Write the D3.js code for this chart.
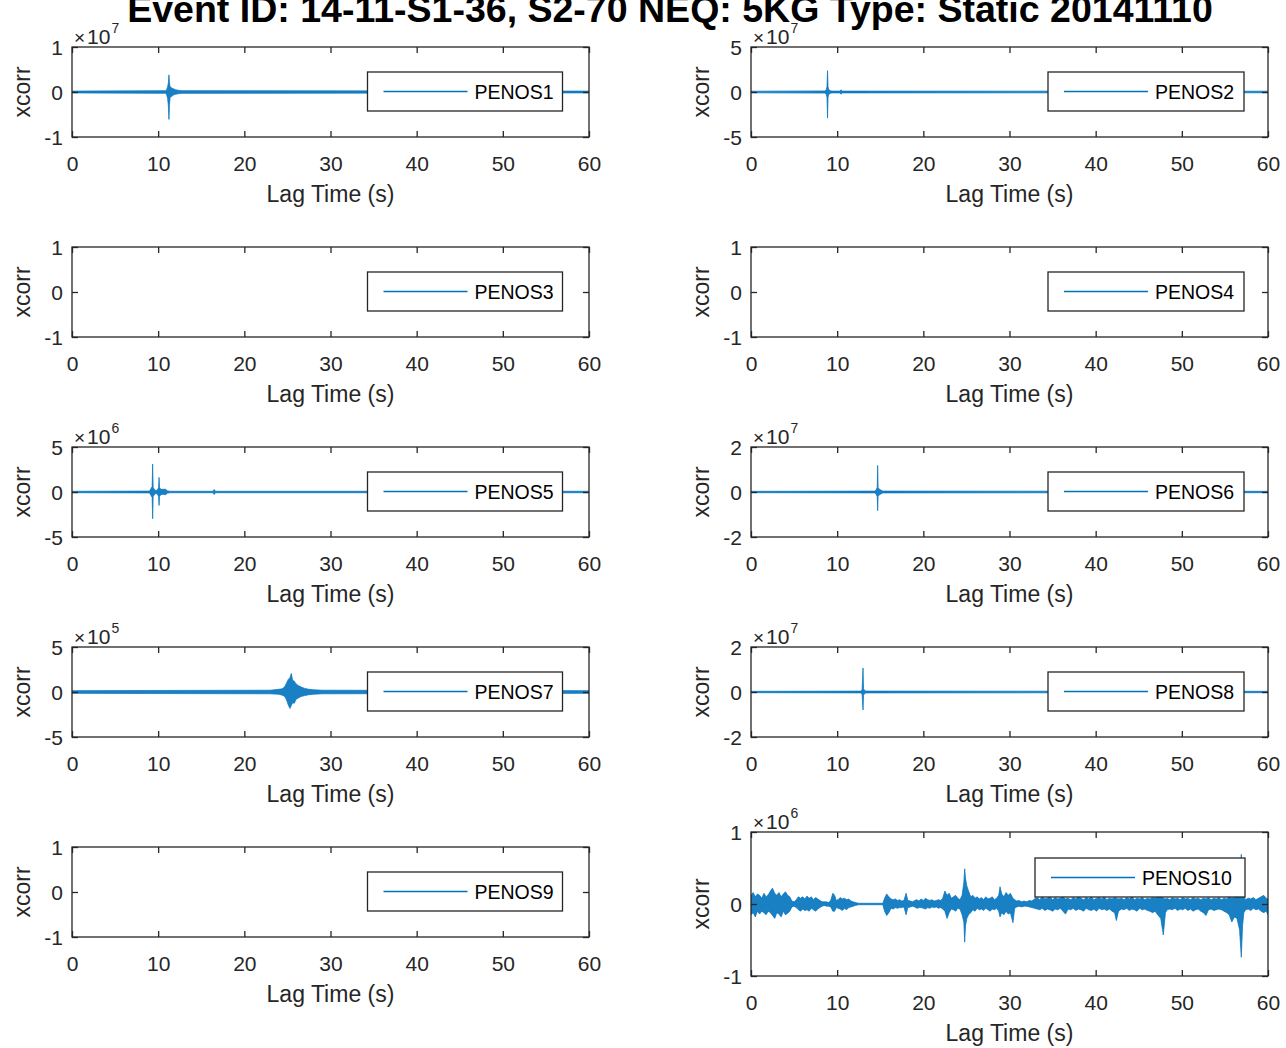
<!DOCTYPE html>
<html><head><meta charset="utf-8">
<script src="https://cdn.jsdelivr.net/npm/d3@7"></script>
<style>
body{margin:0;background:#fff}
text{font-family:"Liberation Sans",Arial,Helvetica,sans-serif}
</style>
</head><body>
<svg id="c" width="1286" height="1048"></svg>
<script>
// ---------------- DATA ----------------
const titleText = "Event ID: 14-11-S1-36, S2-70 NEQ: 5KG Type: Static 20141110";
const stations = ["PENOS1","PENOS2","PENOS3","PENOS4","PENOS5","PENOS6","PENOS7","PENOS8","PENOS9","PENOS10"];
const exponents = [7, 7, null, null, 6, 7, 5, 7, null, 6];
const yLimits = [1, 5, 1, 1, 5, 2, 5, 2, 1, 1];
const xTicks = [0, 10, 20, 30, 40, 50, 60];
const xLabel = "Lag Time (s)";
const yLabel = "xcorr";

// envelope samples: [lag time (s), upper value, lower value] in units of 10^exponent
const penos1 = [[0,0.02,-0.02],[10.9,0.03,-0.03],[11.0,0.06,-0.07],[11.1,0.12,-0.15],[11.18,0.2,-0.3],
  [11.25,0.38,-0.61],[11.31,0.2,-0.3],[11.38,0.12,-0.13],[11.5,0.1,-0.1],[11.65,0.08,-0.09],[11.8,0.07,-0.06],
  [12.0,0.05,-0.05],[12.3,0.04,-0.04],[12.7,0.03,-0.03],[60,0.02,-0.02]];
const penos2 = [[0,0.09,-0.09],[8.6,0.12,-0.12],[8.75,0.3,-0.3],[8.82,0.6,-0.6],[8.88,2.37,-2.9],[8.94,0.6,-0.6],
  [9.0,0.3,-0.3],[9.2,0.15,-0.15],[9.4,0.1,-0.1],[10.35,0.1,-0.1],[10.45,0.25,-0.25],[10.55,0.1,-0.1],[60,0.09,-0.09]];
const penos3 = [];
const penos4 = [];
const penos5 = [[0,0.08,-0.08],[9.0,0.1,-0.1],[9.15,0.35,-0.35],[9.3,0.6,-0.6],[9.36,3.1,-2.97],[9.42,0.5,-0.5],
  [9.55,0.3,-0.3],[9.75,0.15,-0.15],[9.95,0.3,-0.3],[10.05,0.5,-0.5],[10.1,1.62,-1.5],[10.16,0.5,-0.5],
  [10.3,0.3,-0.3],[10.55,0.3,-0.25],[10.85,0.3,-0.3],[11.1,0.12,-0.12],[11.4,0.08,-0.08],[16.35,0.08,-0.08],
  [16.5,0.28,-0.28],[16.65,0.08,-0.08],[60,0.08,-0.08]];
const penos6 = [[0,0.03,-0.03],[14.4,0.04,-0.04],[14.55,0.12,-0.12],[14.65,0.2,-0.2],[14.7,1.18,-0.83],
  [14.75,0.2,-0.2],[14.9,0.12,-0.12],[15.1,0.08,-0.08],[15.3,0.04,-0.04],[60,0.03,-0.03]];
const penos7 = [[0,0.15,-0.15],[23.0,0.2,-0.2],[24.0,0.3,-0.25],[24.4,0.35,-0.35],[24.7,0.6,-0.5],[24.9,1.0,-0.9],
  [25.1,1.4,-1.45],[25.3,1.6,-1.83],[25.45,2.05,-1.5],[25.6,1.3,-1.2],[25.8,1.2,-1.25],[26.0,0.9,-0.8],
  [26.3,0.7,-0.65],[26.6,0.55,-0.5],[27.0,0.4,-0.4],[27.5,0.3,-0.3],[28.0,0.25,-0.25],[29.0,0.2,-0.2],[60,0.15,-0.15]];
const penos8 = [[0,0.03,-0.03],[12.8,0.04,-0.04],[12.9,0.12,-0.12],[13.0,1.07,-0.8],[13.06,0.15,-0.15],
  [13.2,0.06,-0.06],[13.4,0.04,-0.04],[60,0.03,-0.03]];
const penos9 = [];
const penos10 = [[0,0.12,-0.15],[0.25,0.16,-0.12],[0.5,0.1,-0.18],[0.75,0.14,-0.1],[1.0,0.12,-0.14],[1.25,0.08,-0.1],
  [1.5,0.15,-0.12],[1.75,0.1,-0.15],[2.0,0.13,-0.1],[2.25,0.18,-0.12],[2.5,0.22,-0.16],[2.75,0.15,-0.2],
  [3.0,0.12,-0.12],[3.25,0.16,-0.14],[3.5,0.1,-0.18],[3.75,0.14,-0.1],[4.0,0.17,-0.15],[4.25,0.12,-0.13],
  [4.5,0.1,-0.1],[4.75,0.04,-0.04],[5.0,0.03,-0.03],[5.25,0.06,-0.05],[5.5,0.1,-0.08],[5.75,0.08,-0.1],
  [6.0,0.1,-0.07],[6.25,0.07,-0.09],[6.5,0.11,-0.08],[6.75,0.08,-0.1],[7.0,0.1,-0.06],[7.25,0.06,-0.08],
  [7.5,0.09,-0.1],[7.75,0.07,-0.07],[8.0,0.05,-0.05],[8.25,0.03,-0.03],[8.5,0.03,-0.02],[8.75,0.03,-0.03],
  [9.0,0.02,-0.03],[9.25,0.05,-0.04],[9.5,0.15,-0.1],[9.7,0.12,-0.1],[9.9,0.05,-0.05],[10.1,0.06,-0.06],
  [10.35,0.09,-0.07],[10.6,0.07,-0.09],[10.85,0.08,-0.06],[11.1,0.06,-0.08],[11.35,0.07,-0.05],[11.6,0.04,-0.04],
  [11.85,0.03,-0.03],[12.1,0.02,-0.02],[12.5,0.01,-0.01],[15.3,0.01,-0.01],[15.5,0.08,-0.1],[15.75,0.14,-0.16],
  [16.0,0.1,-0.12],[16.25,0.07,-0.06],[16.5,0.06,-0.07],[16.75,0.07,-0.05],[17.0,0.05,-0.06],[17.25,0.06,-0.05],
  [17.5,0.04,-0.05],[17.75,0.05,-0.04],[18.0,0.15,-0.15],[18.2,0.05,-0.05],[18.5,0.04,-0.04],[18.75,0.03,-0.03],
  [19.0,0.05,-0.04],[19.25,0.06,-0.06],[19.5,0.04,-0.05],[19.75,0.07,-0.05],[20.0,0.05,-0.06],[20.25,0.08,-0.07],
  [20.5,0.06,-0.05],[20.75,0.05,-0.06],[21.0,0.06,-0.04],[21.25,0.04,-0.05],[21.5,0.05,-0.04],[21.75,0.06,-0.06],
  [22.0,0.05,-0.05],[22.25,0.08,-0.07],[22.5,0.18,-0.1],[22.75,0.12,-0.2],[23.0,0.15,-0.12],[23.25,0.08,-0.07],
  [23.5,0.1,-0.08],[23.75,0.12,-0.1],[24.0,0.08,-0.06],[24.25,0.06,-0.07],[24.5,0.12,-0.15],[24.7,0.3,-0.25],
  [24.8,0.49,-0.53],[24.9,0.35,-0.3],[25.05,0.25,-0.2],[25.25,0.18,-0.15],[25.5,0.1,-0.12],[25.75,0.12,-0.08],
  [26.0,0.08,-0.1],[26.25,0.1,-0.06],[26.5,0.07,-0.08],[26.75,0.09,-0.07],[27.0,0.06,-0.09],[27.25,0.1,-0.06],
  [27.5,0.07,-0.08],[27.75,0.08,-0.1],[28.0,0.1,-0.07],[28.25,0.06,-0.08],[28.5,0.08,-0.06],[28.75,0.12,-0.1],
  [28.9,0.24,-0.18],[29.1,0.14,-0.12],[29.35,0.1,-0.15],[29.6,0.16,-0.1],[29.85,0.12,-0.14],[30.1,0.15,-0.12],
  [30.4,0.08,-0.26],[30.6,0.06,-0.06],[30.85,0.04,-0.04],[31.1,0.05,-0.03],[31.4,0.03,-0.04],[31.7,0.04,-0.03],
  [32.0,0.03,-0.03],[32.3,0.05,-0.04],[32.6,0.04,-0.05],[32.9,0.07,-0.06],[33.2,0.09,-0.07],[33.5,0.06,-0.08],
  [33.8,0.1,-0.06],[34.1,0.07,-0.09],[34.4,0.08,-0.07],[34.7,0.1,-0.08],[35.0,0.06,-0.1],[35.3,0.09,-0.07],
  [35.6,0.07,-0.08],[35.9,0.08,-0.06],[36.2,0.1,-0.1],[36.5,0.07,-0.14],[36.8,0.08,-0.07],[37.1,0.06,-0.08],
  [37.4,0.09,-0.06],[37.7,0.07,-0.09],[38.0,0.1,-0.07],[38.3,0.08,-0.08],[38.6,0.06,-0.1],[38.9,0.09,-0.06],
  [39.2,0.07,-0.08],[39.5,0.1,-0.09],[39.8,0.06,-0.07],[40.1,0.08,-0.1],[40.4,0.09,-0.06],[40.7,0.07,-0.08],
  [41.0,0.1,-0.07],[41.3,0.06,-0.09],[41.6,0.08,-0.07],[41.9,0.07,-0.1],[42.2,0.09,-0.12],[42.4,0.08,-0.23],
  [42.65,0.07,-0.1],[43.0,0.08,-0.07],[43.3,0.06,-0.08],[43.6,0.09,-0.06],[43.9,0.07,-0.09],[44.2,0.1,-0.07],
  [44.5,0.06,-0.08],[44.8,0.08,-0.1],[45.1,0.07,-0.06],[45.4,0.09,-0.08],[45.7,0.06,-0.07],[46.0,0.08,-0.09],
  [46.3,0.07,-0.1],[46.6,0.09,-0.12],[46.9,0.08,-0.1],[47.2,0.1,-0.15],[47.55,0.12,-0.2],[47.85,0.08,-0.43],
  [48.1,0.07,-0.12],[48.3,0.08,-0.08],[48.6,0.06,-0.07],[48.9,0.09,-0.08],[49.2,0.07,-0.06],[49.5,0.08,-0.09],
  [49.8,0.06,-0.07],[50.1,0.09,-0.08],[50.4,0.07,-0.06],[50.7,0.08,-0.09],[51.0,0.06,-0.07],[51.3,0.09,-0.1],
  [51.6,0.07,-0.08],[51.9,0.08,-0.07],[52.2,0.06,-0.1],[52.5,0.08,-0.12],[52.8,0.07,-0.16],[53.1,0.09,-0.08],
  [53.4,0.06,-0.07],[53.7,0.08,-0.09],[54.0,0.07,-0.08],[54.3,0.09,-0.07],[54.6,0.06,-0.08],[54.9,0.08,-0.1],
  [55.2,0.07,-0.12],[55.5,0.1,-0.15],[55.8,0.08,-0.25],[56.1,0.09,-0.18],[56.4,0.1,-0.2],[56.7,0.12,-0.36],
  [56.9,0.69,-0.74],[57.05,0.2,-0.3],[57.2,0.1,-0.12],[57.4,0.06,-0.08],[57.7,0.08,-0.07],[58.0,0.07,-0.09],
  [58.3,0.09,-0.06],[58.6,0.06,-0.08],[58.9,0.08,-0.07],[59.2,0.1,-0.1],[59.5,0.12,-0.12],[59.8,0.08,-0.1],
  [60.0,0.07,-0.15]];
const seriesData = [penos1,penos2,penos3,penos4,penos5,penos6,penos7,penos8,penos9,penos10];

// ---------------- LAYOUT ----------------
const svg = d3.select("#c");
svg.append("rect").attr("width",1286).attr("height",1048).attr("fill","#fff");
const colLeft = [72, 751];
const plotW = 517;
const rowTop = [47, 247, 447, 647, 847];
const axisColor = "#262626";
const lineColor = "#0072BD";
const tickFont = 21, labelFont = 23, legendFont = 19.5;

stations.forEach((name, i) => {
  const col = i % 2, row = Math.floor(i / 2);
  const left = colLeft[col];
  let top = rowTop[row], h = 90;
  if (i === 9) { top = 832; h = 144; }
  const lim = yLimits[i];
  const x = d3.scaleLinear().domain([0, 60]).range([left, left + plotW]);
  const y = d3.scaleLinear().domain([-lim, lim]).range([top + h, top]);
  const g = svg.append("g");

  const cid = "clip" + i;
  svg.append("clipPath").attr("id", cid).append("rect")
    .attr("x", left).attr("y", top).attr("width", plotW).attr("height", h);

  const data = seriesData[i];
  if (data.length) {
    const area = d3.area().x(d => x(d[0])).y0(d => y(d[2])).y1(d => y(d[1]));
    g.append("path").datum(data).attr("clip-path", `url(#${cid})`)
      .attr("d", area).attr("fill", lineColor).attr("fill-opacity", 0.9)
      .attr("stroke", lineColor).attr("stroke-width", 0.7).attr("stroke-linejoin", "round");
  }

  const tl = 6;
  const yTicks = [-lim, 0, lim];
  const axB = d3.axisBottom(x).tickValues(xTicks).tickSize(-tl).tickPadding(11);
  const axT = d3.axisTop(x).tickValues(xTicks).tickSize(-tl).tickFormat("");
  const axL = d3.axisLeft(y).tickValues(yTicks).tickSize(-tl).tickPadding(12);
  const axR = d3.axisRight(y).tickValues(yTicks).tickSize(-tl).tickFormat("");
  const styleAx = sel => {
    sel.select(".domain").remove();
    sel.selectAll(".tick line").attr("stroke", axisColor).attr("stroke-width", 1.3);
    sel.selectAll("text").attr("fill", axisColor).attr("font-size", tickFont)
      .attr("font-family", '"Liberation Sans",Arial,sans-serif');
  };
  const gb = g.append("g").attr("transform", `translate(0,${top + h})`).call(axB).call(styleAx);
  gb.selectAll("text").attr("dy", null).attr("y", 34).text(d => String(d));
  g.append("g").attr("transform", `translate(0,${top})`).call(axT).call(styleAx);
  const gl = g.append("g").attr("transform", `translate(${left},0)`).call(axL).call(styleAx);
  gl.selectAll("text").attr("dy", "0.36em").attr("x", -9).text(d => d < 0 ? "-" + Math.abs(d) : String(d));
  g.append("g").attr("transform", `translate(${left + plotW},0)`).call(axR).call(styleAx);

  g.append("rect").attr("x", left).attr("y", top).attr("width", plotW).attr("height", h)
    .attr("fill", "none").attr("stroke", axisColor).attr("stroke-width", 1.3);

  if (exponents[i] !== null) {
    const t = g.append("text").attr("x", left + 2).attr("y", top - 3)
      .attr("fill", axisColor).attr("font-size", 21);
    t.append("tspan").attr("font-size", 19).text("\u00D7");
    t.append("tspan").attr("dx", 2).text("10");
    t.append("tspan").attr("font-size", 14).attr("dx", 1).attr("dy", -11).text(String(exponents[i]));
  }

  g.append("text").attr("x", left + plotW / 2).attr("y", top + h + 65)
    .attr("text-anchor", "middle").attr("fill", axisColor).attr("font-size", labelFont).text(xLabel);
  g.append("text").attr("transform", `translate(${left - 42},${top + h / 2}) rotate(-90)`)
    .attr("text-anchor", "middle").attr("fill", axisColor).attr("font-size", labelFont).text(yLabel);

  let lx, lw, ly;
  if (i === 9) { lx = 1035; lw = 210; ly = top + 26; }
  else { lx = col === 0 ? 367.5 : 1048; lw = col === 0 ? 195 : 196; ly = top + h / 2 - 20; }
  const lh = 39;
  g.append("rect").attr("x", lx).attr("y", ly).attr("width", lw).attr("height", lh)
    .attr("fill", "#fff").attr("stroke", axisColor).attr("stroke-width", 1.3);
  g.append("line").attr("x1", lx + 16).attr("x2", lx + 100).attr("y1", ly + lh / 2).attr("y2", ly + lh / 2)
    .attr("stroke", lineColor).attr("stroke-width", 1.4);
  g.append("text").attr("x", lx + 107).attr("y", ly + lh / 2 + 7)
    .attr("fill", "#000").attr("font-size", legendFont).text(name);
});

const title = svg.append("text").attr("x", 670).attr("y", 22).attr("text-anchor", "middle")
  .attr("font-weight", "bold").attr("fill", "#000").attr("font-size", 30).text(titleText);
const w30 = title.node().getComputedTextLength();
title.attr("font-size", 30 * 1086 / w30);
</script>
</body></html>
